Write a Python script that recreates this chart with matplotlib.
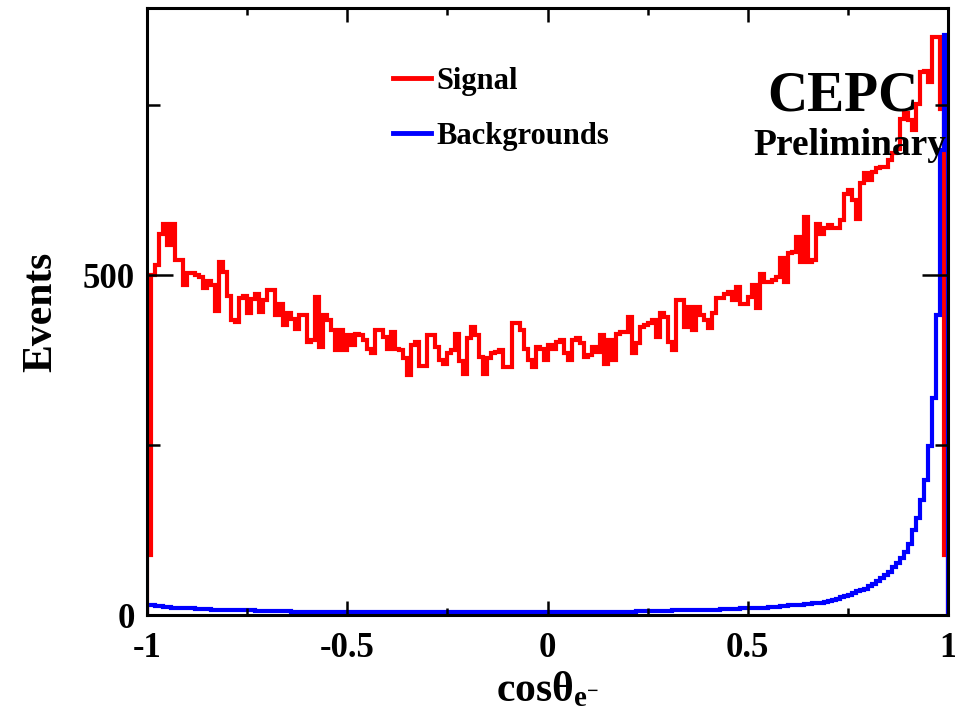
import numpy as np
import matplotlib.pyplot as plt
from matplotlib.lines import Line2D
from matplotlib.ticker import FixedLocator

plt.rcParams['font.family'] = ['Liberation Serif', 'DejaVu Serif']
plt.rcParams['font.weight'] = 'bold'
plt.rcParams['axes.labelweight'] = 'bold'
plt.rcParams['axes.unicode_minus'] = False
plt.rcParams['mathtext.fontset'] = 'custom'
plt.rcParams['mathtext.rm'] = 'Liberation Serif:bold'
plt.rcParams['mathtext.it'] = 'Liberation Serif:bold'
plt.rcParams['mathtext.bf'] = 'Liberation Serif:bold'

# 200 bins of width 0.01 on cos(theta) in [-1, 1]
bin_edges = np.linspace(-1, 1, 201)

signal = [
    88, 500, 515, 560, 575, 545, 575, 522, 522, 485,
    503, 503, 500, 497, 481, 491, 486, 448, 520, 505,
    470, 434, 431, 466, 469, 444, 465, 473, 446, 463,
    478, 478, 441, 458, 427, 444, 436, 421, 441, 441,
    402, 405, 468, 395, 441, 434, 419, 390, 419, 390,
    412, 397, 414, 412, 405, 392, 385, 420, 419, 409,
    392, 417, 392, 390, 378, 353, 397, 402, 367, 367,
    412, 412, 395, 375, 370, 385, 390, 414, 373, 355,
    407, 424, 412, 380, 355, 378, 385, 387, 390, 365,
    365, 429, 429, 419, 392, 375, 365, 395, 392, 375,
    397, 392, 402, 404, 385, 375, 404, 407, 400, 380,
    382, 395, 387, 412, 370, 405, 375, 414, 417, 417,
    439, 385, 400, 424, 427, 429, 434, 409, 444, 439,
    402, 390, 463, 463, 424, 453, 419, 453, 441, 434,
    422, 444, 466, 466, 472, 475, 463, 483, 458, 458,
    468, 485, 451, 502, 490, 490, 493, 498, 525, 490,
    532, 534, 556, 520, 586, 520, 522, 576, 561, 569,
    574, 570, 570, 581, 620, 625, 610, 583, 635, 650,
    640, 652, 657, 659, 659, 669, 679, 686, 730, 738,
    728, 713, 752, 799, 801, 784, 850, 850, 745, 88,
]

backgrounds = [
    15, 14, 13, 13, 12, 12, 11, 11, 11, 10,
    10, 10, 9, 9, 9, 9, 8, 8, 8, 8,
    8, 7, 7, 7, 7, 7, 7, 6, 6, 6,
    6, 6, 6, 6, 6, 6, 5, 5, 5, 5,
    5, 5, 5, 5, 5, 5, 5, 5, 5, 5,
    5, 5, 5, 5, 5, 4, 4, 4, 4, 4,
    4, 4, 4, 4, 4, 4, 4, 4, 4, 4,
    4, 4, 4, 4, 4, 4, 4, 4, 4, 4,
    4, 4, 4, 4, 4, 4, 4, 4, 4, 4,
    4, 4, 4, 4, 4, 4, 4, 4, 4, 4,
    4, 4, 4, 4, 4, 4, 4, 4, 5, 5,
    5, 5, 5, 5, 5, 5, 5, 5, 5, 5,
    5, 5, 6, 6, 6, 6, 6, 6, 6, 6,
    6, 7, 7, 7, 7, 7, 7, 8, 8, 8,
    8, 8, 8, 9, 9, 9, 9, 9, 10, 10,
    10, 10, 11, 11, 11, 12, 12, 12, 13, 13,
    14, 14, 15, 15, 16, 16, 17, 18, 18, 19,
    21, 22, 24, 26, 28, 30, 33, 35, 37, 39,
    42, 46, 50, 54, 59, 64, 70, 77, 84, 93,
    105, 125, 142, 169, 199, 248, 319, 441, 684, 853,
]

fig = plt.figure(figsize=(9.55, 7.11), dpi=100)
ax = fig.add_axes([0.154, 0.135, 0.8387, 0.8537])

ax.stairs(signal, bin_edges, baseline=0, color='#ff0000', linewidth=3)
ax.stairs(backgrounds, bin_edges, baseline=0, color='#0000ff', linewidth=3)

ax.set_xlim(-1, 1)
ax.set_ylim(0, 893)

ax.xaxis.set_major_locator(FixedLocator([-1, -0.5, 0, 0.5, 1]))
ax.xaxis.set_minor_locator(FixedLocator([-0.75, -0.25, 0.25, 0.75]))
ax.set_xticklabels(['-1', '-0.5', '0', '0.5', '1'])
ax.yaxis.set_major_locator(FixedLocator([0, 500]))
ax.yaxis.set_minor_locator(FixedLocator([250, 750]))
ax.set_yticklabels(['0', '500'])

ax.tick_params(axis='x', which='major', direction='in', top=True, length=10,
               width=1.8, labelsize=25, pad=12)
ax.tick_params(axis='x', which='minor', direction='in', top=True, length=5, width=1.8)
ax.tick_params(axis='y', which='major', direction='in', right=True, length=19,
               width=1.8, labelsize=25, pad=9)
ax.tick_params(axis='y', which='minor', direction='in', right=True, length=9.5, width=1.8)
for sp in ax.spines.values():
    sp.set_linewidth(2.2)

ax.set_xlabel(r'cosθ$_{\mathregular{e^{-}}}$', fontsize=30, labelpad=4)
ax.set_ylabel('Events', fontsize=30, labelpad=16)

handles = [Line2D([], [], color='#ff0000', linewidth=3.5),
           Line2D([], [], color='#0000ff', linewidth=3.5)]
ax.legend(handles, ['Signal', 'Backgrounds'], loc='upper left',
          bbox_to_anchor=(0.288, 0.928), frameon=False, fontsize=22,
          handlelength=1.24, handletextpad=0.18, labelspacing=0.85, borderpad=0)

ax.text(0.869, 0.855, 'CEPC', transform=ax.transAxes, fontsize=40,
        ha='center', va='center')
ax.text(0.878, 0.774, 'Preliminary', transform=ax.transAxes, fontsize=27,
        ha='center', va='center', clip_on=False)

fig.savefig('out.png', dpi=100)
